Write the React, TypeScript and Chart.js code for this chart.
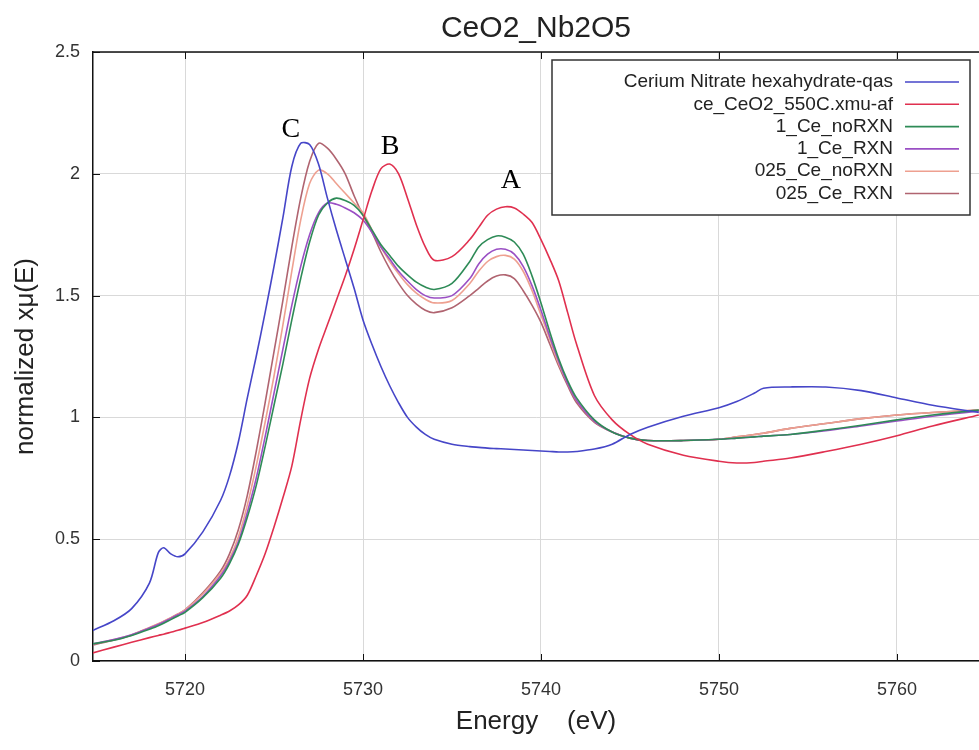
import React, { useEffect, useRef } from 'react';
import { Chart, registerables } from 'chart.js';

Chart.register(...registerables);

const chartTitle = 'CeO2_Nb2O5';
const xAxisTitle = 'Energy    (eV)';
const yAxisTitle = 'normalized xμ(E)';

const energy = [
  5714.8, 5716, 5717, 5718, 5718.5, 5718.8, 5719.2, 5719.6, 5720, 5721,
  5722, 5722.5, 5723, 5723.5, 5724, 5724.5, 5725, 5725.5, 5726, 5726.5,
  5727, 5727.5, 5728, 5728.5, 5729, 5729.5, 5730, 5730.5, 5731, 5731.5,
  5732, 5732.5, 5733, 5733.5, 5734, 5735, 5736, 5736.5, 5737, 5737.5,
  5738, 5738.5, 5739, 5739.5, 5740, 5740.5, 5741, 5741.5, 5742, 5743,
  5744, 5745, 5746, 5748, 5750, 5751, 5752, 5752.5, 5754, 5756,
  5758, 5760, 5762, 5764.6,
];

const ceriumNitrate = [
  0.125, 0.165, 0.215, 0.32, 0.445, 0.465, 0.44, 0.428, 0.44, 0.53,
  0.66, 0.76, 0.9, 1.08, 1.25, 1.43, 1.62, 1.82, 2.03, 2.125,
  2.12, 2.04, 1.9, 1.77, 1.65, 1.53, 1.4, 1.3, 1.21, 1.13,
  1.06, 1.0, 0.96, 0.93, 0.91, 0.89, 0.88, 0.877, 0.874, 0.872,
  0.87, 0.868, 0.866, 0.864, 0.862, 0.86, 0.858, 0.858, 0.86, 0.87,
  0.89, 0.93, 0.96, 1.005, 1.04, 1.065, 1.1, 1.12, 1.125, 1.125,
  1.11, 1.08, 1.05, 1.02,
];

const ceO2_550C = [
  0.033, 0.057, 0.077, 0.096, 0.105, 0.11, 0.118, 0.126, 0.135, 0.158,
  0.188, 0.205, 0.23, 0.27, 0.35, 0.44, 0.55, 0.67, 0.8, 0.99,
  1.16, 1.28, 1.38, 1.48, 1.58, 1.69, 1.81, 1.93, 2.02, 2.04,
  2.0, 1.9, 1.79, 1.7, 1.645, 1.66, 1.73, 1.78, 1.83, 1.855,
  1.865, 1.86, 1.835, 1.8, 1.73, 1.65, 1.56, 1.43, 1.3, 1.09,
  0.99, 0.93, 0.89, 0.845, 0.82, 0.813, 0.815, 0.82, 0.833, 0.86,
  0.89, 0.925, 0.965, 1.01,
];

const ce1NoRxn = [
  0.07, 0.085, 0.105, 0.13, 0.145, 0.155, 0.17, 0.185, 0.2, 0.26,
  0.34, 0.4, 0.48, 0.59, 0.72, 0.88, 1.05, 1.22, 1.4, 1.57,
  1.72, 1.83, 1.88, 1.9, 1.89, 1.87, 1.83, 1.77, 1.71, 1.665,
  1.62, 1.585, 1.555, 1.535, 1.525, 1.55, 1.64, 1.7, 1.73, 1.745,
  1.74, 1.72, 1.67, 1.58, 1.47, 1.35, 1.24, 1.15, 1.08, 0.99,
  0.94, 0.915, 0.905, 0.905, 0.91, 0.915, 0.92, 0.923, 0.93, 0.948,
  0.968, 0.99, 1.01, 1.03,
];

const ce1Rxn = [
  0.07, 0.088, 0.108, 0.135, 0.15, 0.16, 0.175, 0.19, 0.205, 0.265,
  0.35, 0.41, 0.49, 0.61, 0.75, 0.92, 1.1, 1.28, 1.46, 1.62,
  1.75, 1.84, 1.88, 1.875, 1.86, 1.84, 1.81, 1.76, 1.7, 1.65,
  1.6, 1.56, 1.525, 1.5, 1.49, 1.5, 1.57, 1.63, 1.67, 1.69,
  1.69, 1.67, 1.62, 1.54, 1.44, 1.33, 1.23, 1.14, 1.07, 0.985,
  0.94, 0.915, 0.905, 0.905, 0.91, 0.915, 0.92, 0.923, 0.93, 0.945,
  0.965, 0.985, 1.005, 1.025,
];

const ce025NoRxn = [
  0.068, 0.088, 0.108, 0.138, 0.153, 0.163, 0.178, 0.193, 0.21, 0.275,
  0.36, 0.42, 0.51, 0.64, 0.8, 0.98, 1.17, 1.38, 1.6, 1.81,
  1.96, 2.015, 2.0, 1.96, 1.92, 1.88, 1.84, 1.77, 1.7, 1.64,
  1.59, 1.545, 1.51, 1.485, 1.47, 1.48, 1.55, 1.6, 1.64, 1.66,
  1.665, 1.65, 1.6, 1.52, 1.42, 1.32, 1.22, 1.14, 1.07, 0.985,
  0.94, 0.915, 0.905, 0.905, 0.91, 0.92, 0.93, 0.935, 0.955, 0.975,
  0.995, 1.01, 1.02, 1.03,
];

const ce025Rxn = [
  0.065, 0.086, 0.106, 0.136, 0.152, 0.162, 0.177, 0.193, 0.21, 0.28,
  0.37, 0.44, 0.54, 0.68, 0.86, 1.06, 1.27, 1.48, 1.7, 1.9,
  2.05, 2.125, 2.105, 2.06, 2.0, 1.91, 1.83, 1.76, 1.68, 1.61,
  1.55, 1.5, 1.465, 1.44, 1.43, 1.45, 1.5, 1.53, 1.56, 1.58,
  1.585, 1.57, 1.52, 1.46, 1.39, 1.3, 1.21, 1.13, 1.06, 0.98,
  0.94, 0.915, 0.905, 0.905, 0.91, 0.92, 0.93, 0.935, 0.955, 0.975,
  0.995, 1.01, 1.02, 1.03,
];

const seriesNames = [
  'Cerium Nitrate hexahydrate-qas',
  'ce_CeO2_550C.xmu-af',
  '1_Ce_noRXN',
  '1_Ce_RXN',
  '025_Ce_noRXN',
  '025_Ce_RXN',
];
const seriesValues = [ceriumNitrate, ceO2_550C, ce1NoRxn, ce1Rxn, ce025NoRxn, ce025Rxn];
const seriesColors = ['#4646c8', '#e0304f', '#2e8b57', '#9a4fc4', '#eea090', '#b06470'];

const xTicks = [5720, 5730, 5740, 5750, 5760];
const yTicks = [0, 0.5, 1, 1.5, 2, 2.5];
const xMin = 5714.83;
const xMax = 5764.61;

const peakLabels = ['C', 'B', 'A'];
const peakLabelX = [5725.95, 5731.52, 5738.31];
const peakLabelY = [2.18, 2.11, 1.97];

const SANS = '"Liberation Sans", Arial, sans-serif';
const SERIF = '"Liberation Serif", "Times New Roman", serif';

const decorPlugin = {
  id: 'decor',
  beforeDraw(chart: any) {
    const ctx = chart.ctx;
    ctx.save();
    ctx.fillStyle = '#ffffff';
    ctx.fillRect(0, 0, chart.width, chart.height);
    ctx.restore();
  },
  afterDraw(chart: any) {
    const { ctx, chartArea: ca } = chart;
    const x = chart.scales.x;
    const y = chart.scales.y;
    ctx.save();
    const line = (x1: number, y1: number, x2: number, y2: number) => {
      ctx.beginPath();
      ctx.moveTo(x1, y1);
      ctx.lineTo(x2, y2);
      ctx.stroke();
    };
    ctx.strokeStyle = '#111';
    ctx.lineWidth = 1.5;
    line(ca.left, ca.top, ca.right, ca.top);
    ctx.lineWidth = 1;
    xTicks.forEach((v) => {
      const px = Math.round(x.getPixelForValue(v)) + 0.5;
      line(px, ca.bottom, px, ca.bottom - 7);
      line(px, ca.top, px, ca.top + 7);
    });
    yTicks.forEach((v) => {
      const py = Math.round(y.getPixelForValue(v)) + 0.5;
      line(ca.left, py, ca.left + 7, py);
    });
    ctx.fillStyle = '#222';
    ctx.font = `30px ${SANS}`;
    ctx.textAlign = 'center';
    ctx.textBaseline = 'middle';
    ctx.fillText(chartTitle, (ca.left + ca.right) / 2, 29);
    ctx.fillStyle = '#000';
    ctx.font = `28px ${SERIF}`;
    peakLabels.forEach((t, i) => {
      ctx.fillText(t, x.getPixelForValue(peakLabelX[i]), y.getPixelForValue(peakLabelY[i]));
    });
    const lx1 = 552, ly1 = 60, lx2 = 970, ly2 = 215;
    ctx.fillStyle = '#fff';
    ctx.fillRect(lx1, ly1, lx2 - lx1, ly2 - ly1);
    ctx.strokeStyle = '#333';
    ctx.lineWidth = 1.5;
    ctx.strokeRect(lx1, ly1, lx2 - lx1, ly2 - ly1);
    ctx.font = `19px ${SANS}`;
    ctx.textAlign = 'right';
    ctx.textBaseline = 'middle';
    seriesNames.forEach((name, i) => {
      const ry = 82 + i * 22.3;
      ctx.fillStyle = '#222';
      ctx.fillText(name, 893, ry);
      ctx.strokeStyle = seriesColors[i];
      ctx.lineWidth = 1.6;
      line(905, ry, 959, ry);
    });
    ctx.restore();
  },
};

export default function App() {
  const canvasRef = useRef<HTMLCanvasElement | null>(null);

  useEffect(() => {
    if (!canvasRef.current) return;
    const datasets = seriesNames.map((name, si) => ({
      label: name,
      data: energy.map((e, i) => ({ x: e, y: seriesValues[si][i] })),
      borderColor: seriesColors[si],
      backgroundColor: seriesColors[si],
      borderWidth: 1.6,
      pointRadius: 0,
      fill: false,
      tension: 0.3,
    }));
    const chart = new Chart(canvasRef.current, {
      type: 'line',
      data: { datasets },
      plugins: [decorPlugin],
      options: {
        animation: false,
        responsive: false,
        devicePixelRatio: 1,
        layout: { padding: { top: 52, left: 0, right: 0, bottom: 0 } },
        plugins: {
          legend: { display: false },
          title: { display: false },
          tooltip: { enabled: false },
        },
        scales: {
          x: {
            type: 'linear',
            min: xMin,
            max: xMax,
            afterFit: (s: any) => { s.height = 89; },
            afterBuildTicks: (s: any) => { s.ticks = xTicks.map((v) => ({ value: v })); },
            ticks: {
              includeBounds: false,
              padding: 18,
              color: '#333',
              font: { family: SANS, size: 18 },
              maxRotation: 0,
              autoSkip: false,
              callback: (v: any) => String(v),
            },
            grid: { color: '#d9d9d9', lineWidth: 1, drawTicks: false },
            border: { display: true, color: '#111', width: 1.5 },
            title: {
              display: true,
              text: xAxisTitle,
              color: '#222',
              font: { family: SANS, size: 26 },
              padding: { top: 0, bottom: 13 },
            },
          },
          y: {
            type: 'linear',
            min: 0,
            max: 2.5,
            afterFit: (s: any) => { s.width = 93; },
            afterBuildTicks: (s: any) => { s.ticks = yTicks.map((v) => ({ value: v })); },
            ticks: {
              padding: 13,
              color: '#333',
              font: { family: SANS, size: 18 },
              autoSkip: false,
              callback: (v: any) => String(v),
            },
            grid: { color: '#d9d9d9', lineWidth: 1, drawTicks: false },
            border: { display: true, color: '#111', width: 1.5 },
            title: {
              display: true,
              text: yAxisTitle,
              color: '#222',
              font: { family: SANS, size: 26 },
              padding: { top: 10, bottom: 0 },
            },
          },
        },
      },
    } as any);
    return () => chart.destroy();
  }, []);

  return (
    <div style={{ position: 'absolute', left: 0, top: 0, width: 979, height: 750, background: '#fff' }}>
      <canvas ref={canvasRef} width={979} height={750} style={{ display: 'block', width: 979, height: 750 }} />
    </div>
  );
}
